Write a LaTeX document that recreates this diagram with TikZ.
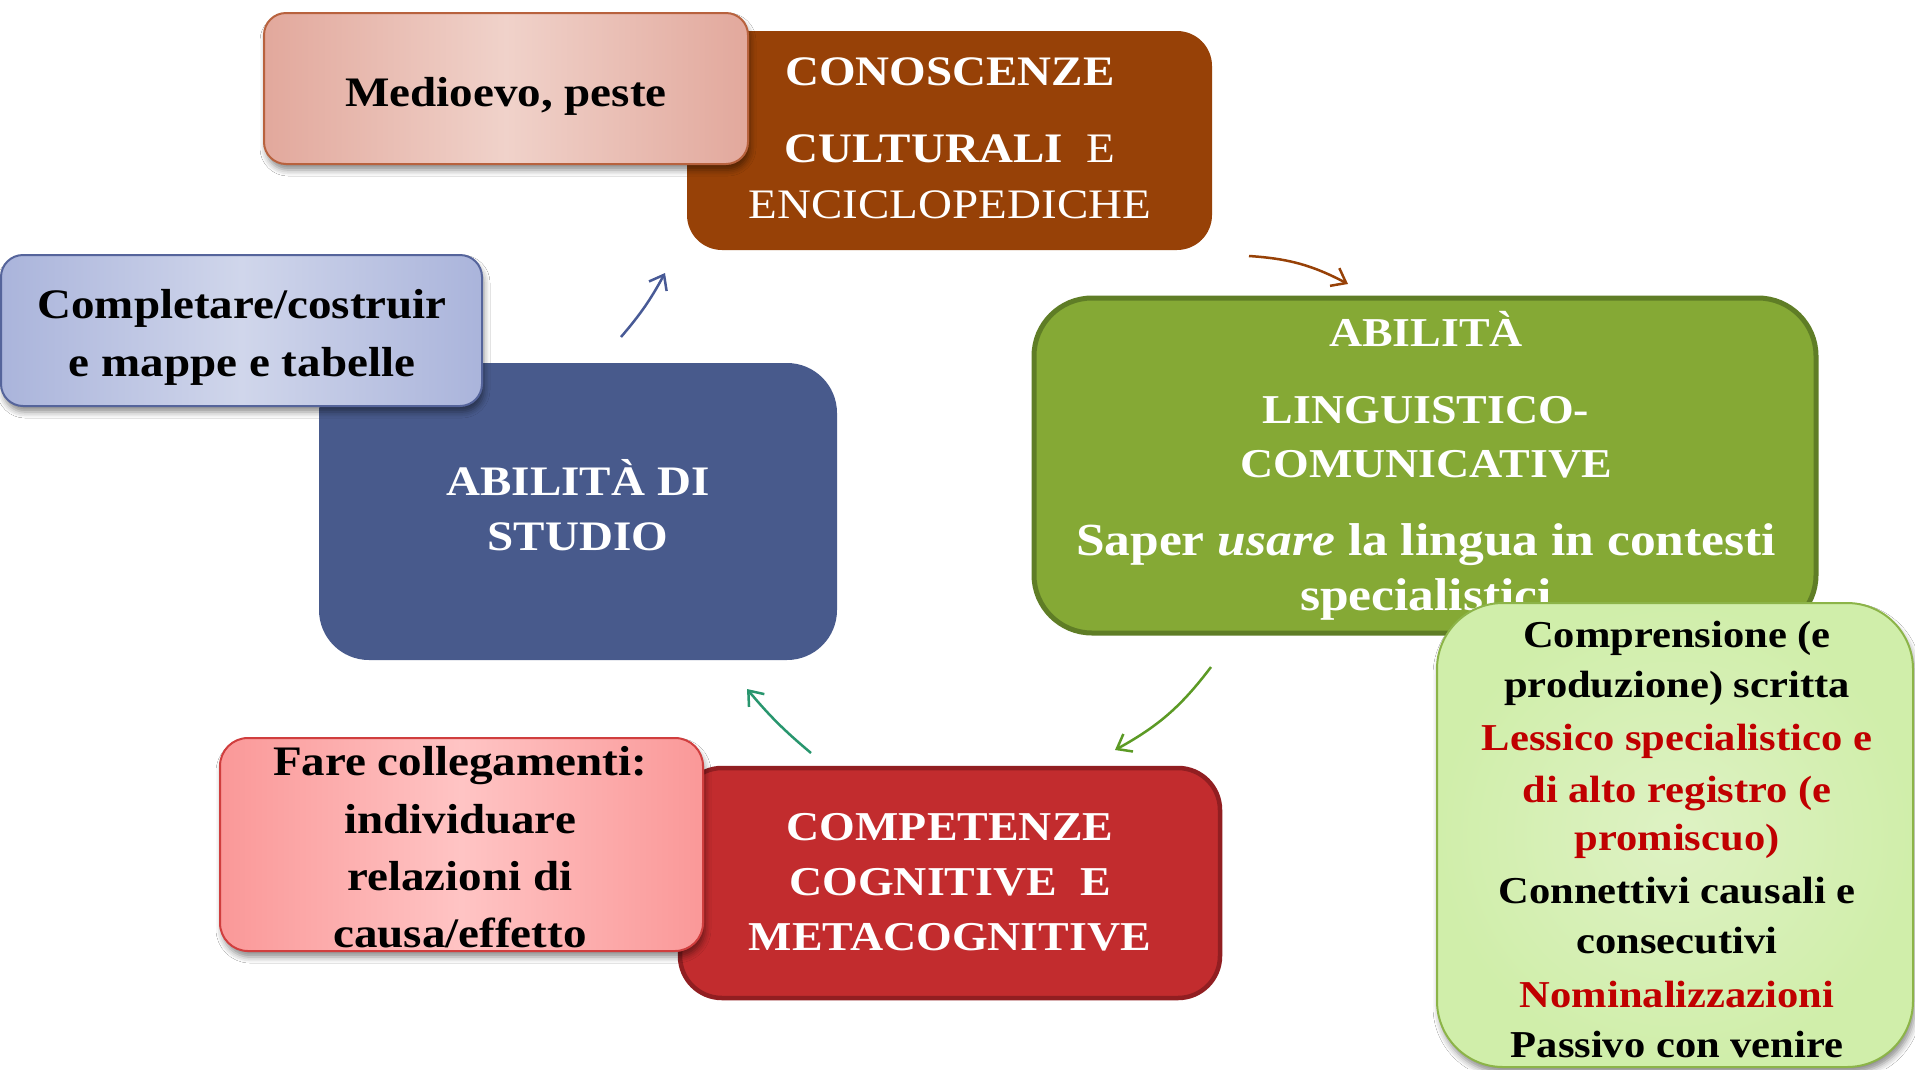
\documentclass[tikz,border=0pt]{standalone}
\usepackage{fontspec}
\setmainfont[FakeStretch=1.12]{Liberation Serif}
\usetikzlibrary{arrows.meta,shadows.blur}

\definecolor{brownbox}{RGB}{151,65,7}
\definecolor{bluebox}{RGB}{72,90,140}
\definecolor{greenbox}{RGB}{133,169,53}
\definecolor{greenrim}{RGB}{95,125,38}
\definecolor{redbox}{RGB}{194,44,46}
\definecolor{redrim}{RGB}{145,30,33}
\definecolor{roseedge}{RGB}{226,168,156}
\definecolor{rosemid}{RGB}{240,210,202}
\definecolor{roserim}{RGB}{184,98,62}
\definecolor{lavedge}{RGB}{170,180,219}
\definecolor{lavmid}{RGB}{208,214,235}
\definecolor{lavrim}{RGB}{85,100,155}
\definecolor{pinkedge}{RGB}{250,152,152}
\definecolor{pinkmid}{RGB}{255,196,196}
\definecolor{pinkrim}{RGB}{208,62,62}
\definecolor{paleout}{RGB}{208,238,170}
\definecolor{palein}{RGB}{222,242,196}
\definecolor{palerim}{RGB}{140,180,72}
\definecolor{hotred}{RGB}{192,0,0}
\definecolor{arrowblue}{RGB}{72,90,150}
\definecolor{arrowgreen}{RGB}{92,154,37}
\definecolor{arrowteal}{RGB}{40,150,110}

\tikzset{
  boxshape/.style={rectangle, inner sep=0pt, outer sep=0pt},
  softshadow/.style={blur shadow={shadow xshift=2pt, shadow yshift=-6pt,
      shadow blur radius=6pt, shadow opacity=45}},
  glossy/.style={left color=#1edge, right color=#1edge, middle color=#1mid},
  ln/.style={anchor=base, inner sep=0pt, outer sep=0pt},
  whitebold/.style={text=white, font=\fontsize{#1}{#1}\selectfont\bfseries},
  whiteplain/.style={text=white, font=\fontsize{#1}{#1}\selectfont},
  blackbold/.style={text=black, font=\fontsize{#1}{#1}\selectfont\bfseries},
  redbold/.style={text=hotred, font=\fontsize{#1}{#1}\selectfont\bfseries},
  flow/.style={line width=2.5pt, -{Straight Barb[length=13pt,width=20pt]}},
}

\begin{document}
\begin{tikzpicture}[x=1pt,y=-1pt]
\useasboundingbox[fill=white] (0,0) rectangle (1915,1069);

% --- knowledge box (brown) with its topic label
\node[boxshape, fill=brownbox, rounded corners=35pt,
      minimum width=525pt, minimum height=219pt] (cono) at (949.5,140.5) {};
\node[ln, whitebold=42] (cono1) at (950,85) {CONOSCENZE};
\node[ln, whitebold=42] (cono2) at (950,162) {CULTURALI\ \ {\mdseries E}};
\node[ln, whiteplain=42] (cono3) at (950,218) {ENCICLOPEDICHE};

\node[boxshape, softshadow, draw=roserim, line width=2pt, rounded corners=22pt,
      glossy=rose, minimum width=484pt, minimum height=151pt] (medio) at (506,88.5) {};
\node[ln, blackbold=42] (medio1) at (506,106) {Medioevo, peste};

% --- study skills box (blue) with its example
\node[boxshape, fill=bluebox, rounded corners=50pt,
      minimum width=518pt, minimum height=297pt] (studio) at (578,511.5) {};
\node[ln, whitebold=42] (studio1) at (578,495) {ABILITÀ DI};
\node[ln, whitebold=42] (studio2) at (578,550) {STUDIO};

\node[boxshape, softshadow, draw=lavrim, line width=2pt, rounded corners=22pt,
      glossy=lav, minimum width=481pt, minimum height=151pt] (mappe) at (241.5,330.5) {};
\node[ln, blackbold=42] (mappe1) at (242,318) {Completare/costruir};
\node[ln, blackbold=42] (mappe2) at (242,376) {e mappe e tabelle};

% --- language skills box (green) with its detail list
\node[boxshape, fill=greenbox, draw=greenrim, line width=5pt, rounded corners=58pt,
      minimum width=782pt, minimum height=335pt] (lingua) at (1425,465.5) {};
\node[ln, whitebold=41] (lingua1) at (1426,346) {ABILITÀ};
\node[ln, whitebold=41] (lingua2) at (1426,423) {LINGUISTICO-};
\node[ln, whitebold=41] (lingua3) at (1426,477) {COMUNICATIVE};
\node[ln, whitebold=46] (lingua4) at (1426,555) {Saper \textit{usare} la lingua in contesti};
\node[ln, whitebold=46] (lingua5) at (1426,610) {specialistici};

\node[boxshape, softshadow, draw=palerim, line width=2pt, rounded corners=66pt,
      shading=radial, inner color=palein, outer color=paleout,
      minimum width=476pt, minimum height=464pt] (testo) at (1675,835) {};
\node[ln, blackbold=38] (testo1) at (1677,647) {Comprensione (e};
\node[ln, blackbold=38] (testo2) at (1677,697) {produzione) scritta};
\node[ln, redbold=38]   (testo3) at (1677,750) {Lessico specialistico e};
\node[ln, redbold=38]   (testo4) at (1677,802) {di alto registro (e};
\node[ln, redbold=38]   (testo5) at (1677,850) {promiscuo)};
\node[ln, blackbold=38] (testo6) at (1677,903) {Connettivi causali e};
\node[ln, blackbold=38] (testo7) at (1677,953) {consecutivi};
\node[ln, redbold=38]   (testo8) at (1677,1007) {Nominalizzazioni};
\node[ln, blackbold=38] (testo9) at (1677,1057) {Passivo con venire};

% --- cognitive skills box (red) with its example
\node[boxshape, fill=redbox, draw=redrim, line width=4.5pt, rounded corners=42pt,
      minimum width=540pt, minimum height=230pt] (cogn) at (950,883) {};
\node[ln, whitebold=41] (cogn1) at (950,840) {COMPETENZE};
\node[ln, whitebold=41] (cogn2) at (950,895) {COGNITIVE\ \ E};
\node[ln, whitebold=41] (cogn3) at (950,950) {METACOGNITIVE};

\node[boxshape, softshadow, draw=pinkrim, line width=2pt, rounded corners=28pt,
      glossy=pink, minimum width=483pt, minimum height=213pt] (nessi) at (461.5,844.5) {};
\node[ln, blackbold=42] (nessi1) at (460,775) {Fare collegamenti:};
\node[ln, blackbold=42] (nessi2) at (460,833) {individuare};
\node[ln, blackbold=42] (nessi3) at (460,890) {relazioni di};
\node[ln, blackbold=42] (nessi4) at (460,947) {causa/effetto};

% --- cycle arrows between the four areas
\coordinate (a1s) at (621,337);  \coordinate (a1e) at (665,273);
\coordinate (a2s) at (1249,256); \coordinate (a2e) at (1348,284);
\coordinate (a3s) at (1211,667); \coordinate (a3e) at (1115,750);
\coordinate (a4s) at (811,753);  \coordinate (a4e) at (747,689);
\draw[flow, arrowblue]  (a1s) to[bend right=6] (a1e);
\draw[flow, brownbox]   (a2s) to[bend left=12] (a2e);
\draw[flow, arrowgreen] (a3s) to[bend left=12] (a3e);
\draw[flow, arrowteal]  (a4s) to[bend left=5] (a4e);
\end{tikzpicture}
\end{document}
